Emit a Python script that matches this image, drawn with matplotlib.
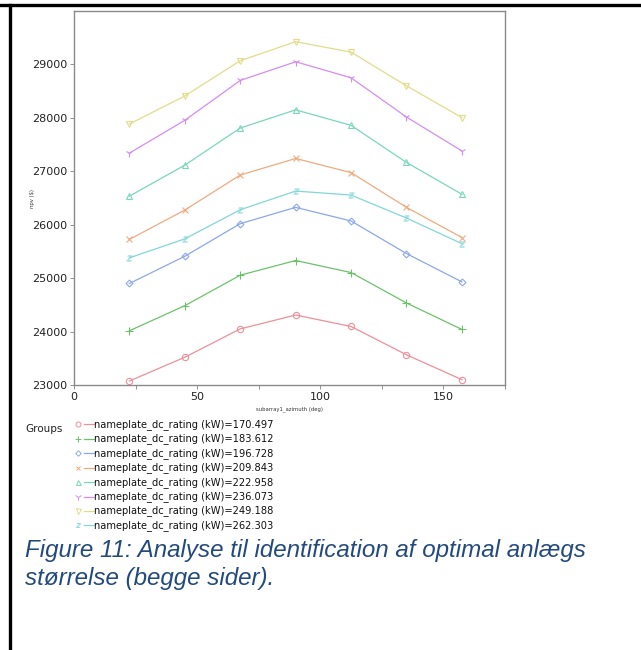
import numpy as np
import matplotlib.pyplot as plt
from matplotlib.lines import Line2D

# azimuth values (deg)
azimuth = [22.5, 45, 67.5, 90, 112.5, 135, 157.5]

# nameplate ratings (kW) for each group
ratings = ["170.497", "183.612", "196.728", "209.843",
           "222.958", "236.073", "249.188", "262.303"]

# npv ($) per group
npv_170 = [23075, 23520, 24050, 24310, 24095, 23565, 23100]
npv_183 = [24015, 24485, 25055, 25330, 25105, 24535, 24040]
npv_196 = [24900, 25410, 26020, 26325, 26070, 25460, 24930]
npv_209 = [25725, 26275, 26930, 27240, 26975, 26325, 25760]
npv_222 = [26535, 27115, 27810, 28150, 27860, 27165, 26570]
npv_236 = [27340, 27955, 28700, 29050, 28750, 28015, 27380]
npv_249 = [27885, 28410, 29070, 29425, 29230, 28600, 28005]
npv_262 = [25380, 25735, 26280, 26630, 26555, 26125, 25645]

series = [npv_170, npv_183, npv_196, npv_209, npv_222, npv_236, npv_249, npv_262]
colors = ["#ef8f98", "#6cc26c", "#8ea6ee", "#f0aa80",
          "#7ad8b8", "#d48cf2", "#e2dc8a", "#84d6d6"]
markers = ["o", "+", "D", "x", "^", "1", "v", "$z$"]
msizes = [4.5, 5.5, 3.5, 4, 4.5, 6, 4.5, 4]

W, H = 641, 650
fig = plt.figure(figsize=(W / 100, H / 100), dpi=100)

# page borders of the document
fig.add_artist(Line2D([0, 1], [1 - 5 / H, 1 - 5 / H], color="black", lw=2.4))
fig.add_artist(Line2D([10 / W, 10 / W], [0, 1 - 5 / H], color="black", lw=2.4))

ax = fig.add_axes([74 / W, 1 - 385 / H, (505 - 74) / W, (385 - 11) / H])
for vals, c, m, s in zip(series, colors, markers, msizes):
    ax.plot(azimuth, vals, color=c, lw=0.9, marker=m, markersize=s,
            markerfacecolor="none", markeredgecolor=c,
            markeredgewidth=0.4 if m.startswith("$") else 0.8)

ax.set_xlim(0, 175)
ax.set_ylim(23000, 30000)
ax.set_xticks([0, 50, 100, 150])
ax.set_xticks([25, 75, 125, 175], minor=True)
ax.set_yticks([23000, 24000, 25000, 26000, 27000, 28000, 29000])
ax.tick_params(labelsize=8, colors="#808080", labelcolor="#222222",
               length=3, width=0.6, pad=2)
ax.tick_params(which="minor", length=3, width=0.6, colors="#808080")
for sp in ax.spines.values():
    sp.set_color("#8a8a8a")
    sp.set_linewidth(1.0)
ax.set_xlabel("subarray1_azimuth (deg)", fontsize=3.8, color="#333333", labelpad=3)
ax.set_ylabel("npv ($)", fontsize=3.8, color="#333333", labelpad=-2.5)

# legend block
fig.text(25 / W, 1 - 429 / H, "Groups", fontsize=7.5, color="#222222", va="center")
y0, dy = 424.3, 14.45
for i, (r, c, m, s) in enumerate(zip(ratings, colors, markers, msizes)):
    y = 1 - (y0 + i * dy) / H
    fig.add_artist(Line2D([78 / W], [y], marker=m, markersize=s * 0.8,
                          markerfacecolor="none", markeredgecolor=c,
                          markeredgewidth=0.35 if m.startswith("$") else 0.7,
                          linestyle="none"))
    fig.add_artist(Line2D([84 / W, 93.5 / W], [y, y], color=c, lw=0.9))
    fig.text(94 / W, y, "nameplate_dc_rating (kW)=" + r, fontsize=7.1,
             color="#111111", va="center")

# caption
cap = "#234a7e"
fig.text(25 / W, 1 - 551 / H, "Figure 11: Analyse til identification af optimal anlægs",
         fontsize=17.4, style="italic", family="Liberation Sans", color=cap, va="center")
fig.text(25 / W, 1 - 578 / H, "størrelse (begge sider).",
         fontsize=17.4, style="italic", family="Liberation Sans", color=cap, va="center")

fig.savefig("out.png", dpi=100, facecolor="white")
